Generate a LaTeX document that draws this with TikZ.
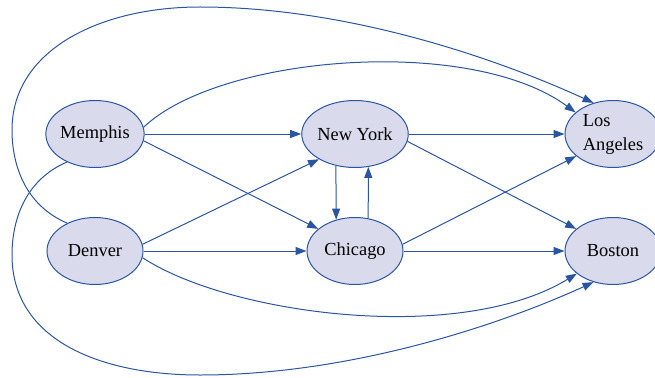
\documentclass[tikz,border=0pt]{standalone}
\usepackage{fontspec}
\setmainfont{Liberation Serif}
\usetikzlibrary{shapes.geometric,arrows.meta}
\definecolor{edgeblue}{HTML}{2A55A3}
\definecolor{nodefill}{HTML}{D9DAEC}
\begin{document}
\begin{tikzpicture}[x=1pt,y=-1pt,
  city/.style={ellipse,draw=edgeblue,fill=nodefill,line width=1pt,
    minimum width=96pt,minimum height=67pt,inner sep=0pt,
    font=\fontsize{18.4}{24}\selectfont,align=left},
  link/.style={draw=edgeblue,line width=1pt,
    -{Triangle[length=11pt,width=8pt]}}]
\useasboundingbox (0,0) rectangle (655,377);
\node[city] (mem) at (95,134) {Memphis};
\node[city] (den) at (95,251) {Denver};
\node[city] (ny)  at (355,134) {New York};
\node[city] (ch)  at (355,251) {Chicago};
\node[city] (la)  at (613,134) {Los\\Angeles};
\node[city] (bo)  at (613,251) {Boston};
% straight edges
\draw[link] (mem) -- (ny);
\draw[link] (mem.-8) -- (ch.149);
\draw[link] (den.8) -- (ny.215);
\draw[link] (den) -- (ch);
\draw[link] (ny) -- (la);
\draw[link] (ny.-8) -- (bo.149);
\draw[link] (ch.8) -- (la.211);
\draw[link] (ch) -- (bo);
\draw[link] (ny.239) -- (ch.121);
\draw[link] (ch.68) -- (ny.292);
% curved edges
\draw[link] (mem.8) .. controls (220,55) and (470,35) .. (la.150);
\draw[link] (den.135) .. controls (25,205) and (12,165) .. (12,130)
  .. controls (12,50) and (100,7) .. (200,7)
  .. controls (350,7) and (500,60) .. (la.122);
\draw[link] (mem.225) .. controls (25,180) and (12,220) .. (12,255)
  .. controls (12,340) and (100,375) .. (200,375)
  .. controls (350,375) and (500,325) .. (bo.238);
\draw[link] (den.-8) .. controls (230,315) and (460,345) .. (bo.212);
\end{tikzpicture}
\end{document}
